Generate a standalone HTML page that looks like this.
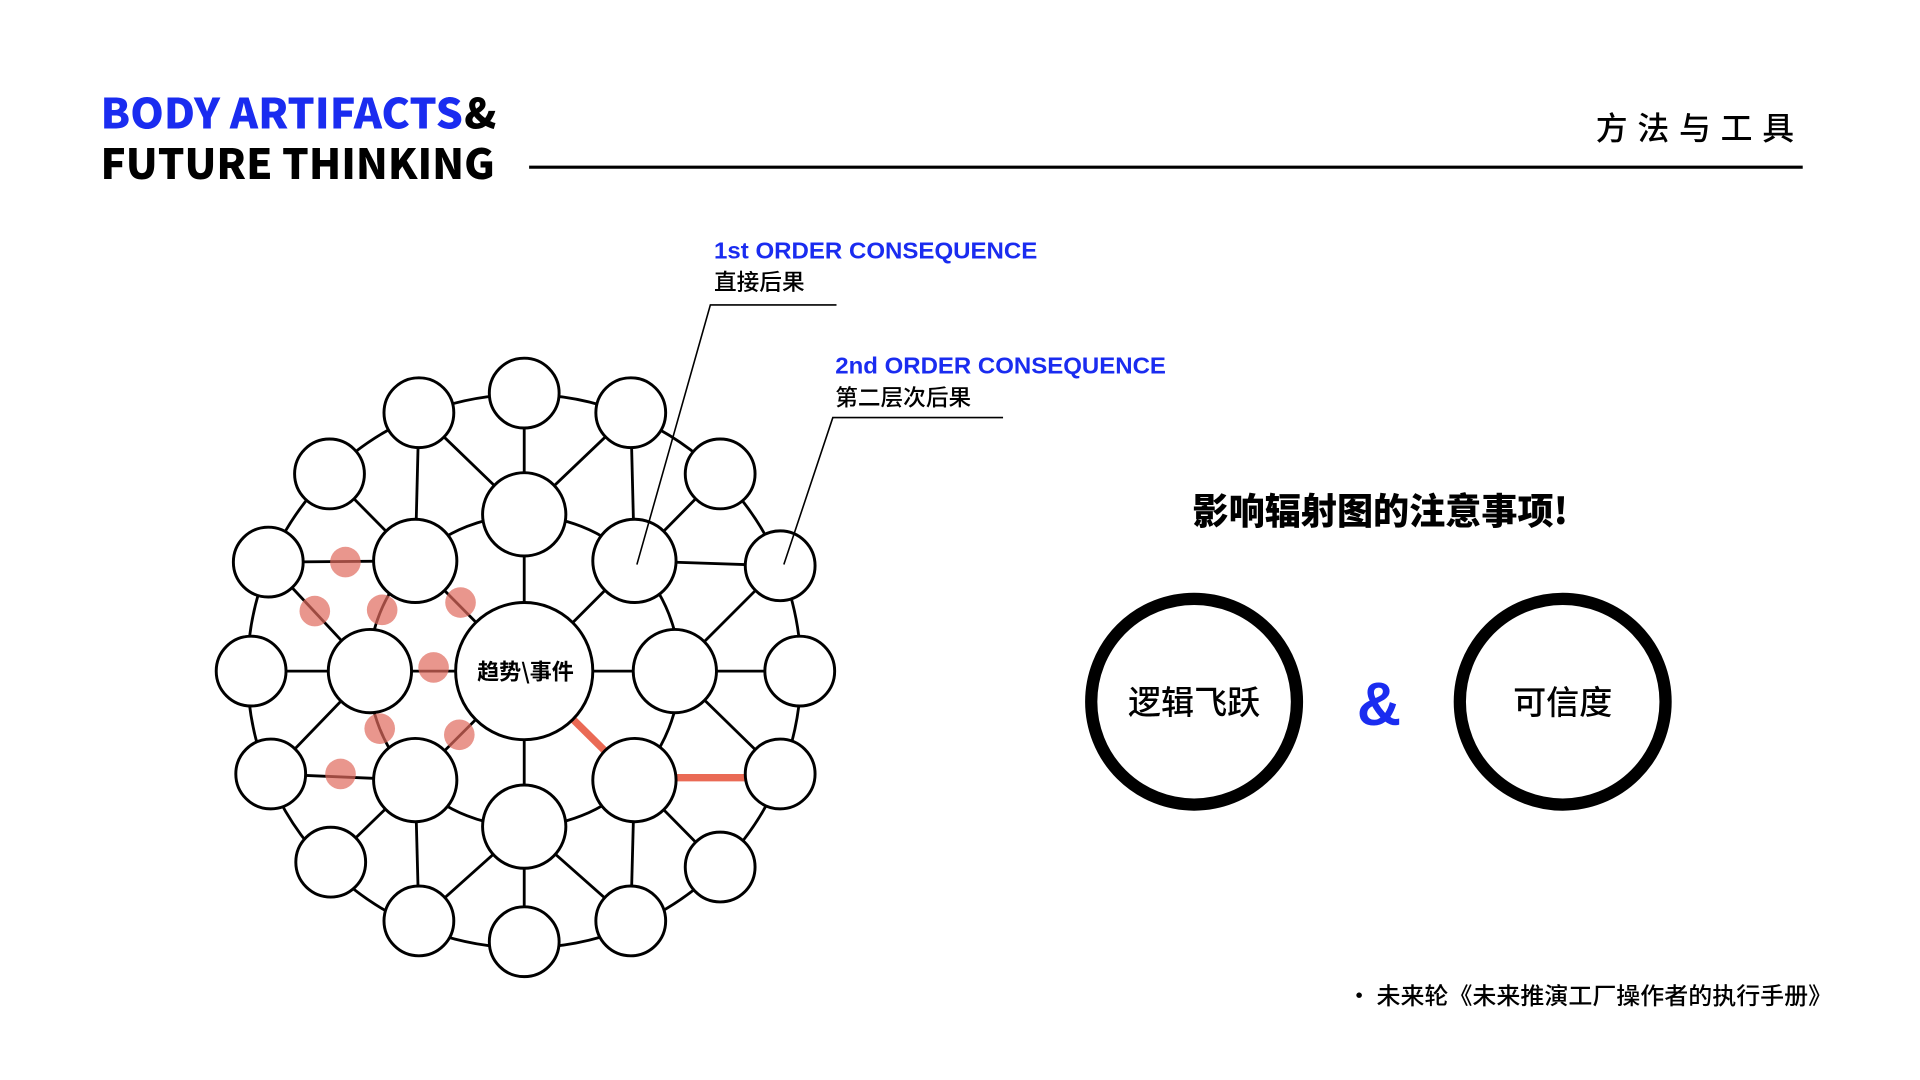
<!DOCTYPE html>
<html><head><meta charset="utf-8"><style>
html,body{margin:0;padding:0;background:#fff;width:1920px;height:1080px;overflow:hidden}
svg{display:block}
text{font-family:"Liberation Sans","Noto Sans CJK SC",sans-serif}
.cjk{font-family:"Noto Sans CJK SC","WenQuanYi Zen Hei",sans-serif}
</style></head><body>
<svg width="1920" height="1080" viewBox="0 0 1567.7 881.9" xmlns="http://www.w3.org/2000/svg">
<text x="82" y="105" class="cjk" font-weight="900" font-size="34" fill="#1a2cf0" textLength="296" lengthAdjust="spacingAndGlyphs">BODY ARTIFACTS</text>
<text x="379" y="105" class="cjk" font-weight="900" font-size="34" fill="#000">&amp;</text>
<text x="82" y="146" class="cjk" font-weight="900" font-size="34" fill="#000" textLength="322" lengthAdjust="spacingAndGlyphs">FUTURE THINKING</text>
<line x1="432" y1="136.5" x2="1472" y2="136.5" stroke="#000" stroke-width="2.5"/>
<text x="1473" y="114" text-anchor="end" class="cjk" font-size="26" font-weight="500" fill="#000" letter-spacing="8">方法与工具</text>

<text x="583" y="211" font-weight="700" font-size="18.5" fill="#1a2cf0" textLength="264" lengthAdjust="spacingAndGlyphs">1st ORDER CONSEQUENCE</text>
<text x="583" y="237" class="cjk" font-weight="500" font-size="18.5" fill="#000">直接后果</text>
<text x="682" y="305" font-weight="700" font-size="18.5" fill="#1a2cf0" textLength="270" lengthAdjust="spacingAndGlyphs">2nd ORDER CONSEQUENCE</text>
<text x="682" y="331" class="cjk" font-weight="500" font-size="18.5" fill="#000">第二层次后果</text>

<g stroke="#000" stroke-width="2.3" fill="none">
<circle cx="428" cy="548" r="226"/>
<circle cx="428" cy="548" r="127"/>
<line x1="428" y1="548" x2="428" y2="420"/><line x1="428" y1="548" x2="339" y2="458"/>
<line x1="428" y1="548" x2="518" y2="458"/><line x1="428" y1="548" x2="302" y2="548"/>
<line x1="428" y1="548" x2="551" y2="548"/><line x1="428" y1="548" x2="339" y2="637"/>
<line x1="428" y1="548" x2="428" y2="675"/>
<line x1="428" y1="420" x2="428" y2="321"/><line x1="428" y1="420" x2="342" y2="337"/><line x1="428" y1="420" x2="515" y2="337"/>
<line x1="339" y1="458" x2="342" y2="337"/><line x1="339" y1="458" x2="269" y2="387"/><line x1="339" y1="458" x2="219" y2="459"/>
<line x1="302" y1="548" x2="219" y2="459"/><line x1="302" y1="548" x2="205" y2="548"/><line x1="302" y1="548" x2="221" y2="632"/>
<line x1="339" y1="637" x2="221" y2="632"/><line x1="339" y1="637" x2="270" y2="704"/><line x1="339" y1="637" x2="342" y2="752"/>
<line x1="428" y1="675" x2="342" y2="752"/><line x1="428" y1="675" x2="428" y2="769"/><line x1="428" y1="675" x2="515" y2="752"/>
<line x1="518" y1="637" x2="515" y2="752"/><line x1="518" y1="637" x2="588" y2="708"/>
<line x1="551" y1="548" x2="637" y2="632"/><line x1="551" y1="548" x2="653" y2="548"/><line x1="551" y1="548" x2="637" y2="462"/>
<line x1="518" y1="458" x2="637" y2="462"/><line x1="518" y1="458" x2="588" y2="387"/><line x1="518" y1="458" x2="515" y2="337"/>
</g>
<g stroke="#ea6a55" stroke-width="6">
<line x1="428" y1="548" x2="518" y2="637"/>
<line x1="518" y1="635" x2="637" y2="635"/>
</g>
<g stroke="#000" stroke-width="2.4" fill="#fff">
<circle cx="428" cy="548" r="56"/>
<circle cx="428" cy="420" r="34"/><circle cx="339" cy="458" r="34"/><circle cx="518" cy="458" r="34"/>
<circle cx="302" cy="548" r="34"/><circle cx="551" cy="548" r="34"/><circle cx="339" cy="637" r="34"/>
<circle cx="518" cy="637" r="34"/><circle cx="428" cy="675" r="34"/>
<circle cx="428" cy="321" r="28.5"/><circle cx="342" cy="337" r="28.5"/><circle cx="515" cy="337" r="28.5"/>
<circle cx="269" cy="387" r="28.5"/><circle cx="588" cy="387" r="28.5"/><circle cx="219" cy="459" r="28.5"/>
<circle cx="637" cy="462" r="28.5"/><circle cx="205" cy="548" r="28.5"/><circle cx="653" cy="548" r="28.5"/>
<circle cx="221" cy="632" r="28.5"/><circle cx="637" cy="632" r="28.5"/><circle cx="270" cy="704" r="28.5"/>
<circle cx="588" cy="708" r="28.5"/><circle cx="342" cy="752" r="28.5"/><circle cx="515" cy="752" r="28.5"/>
<circle cx="428" cy="769" r="28.5"/>
</g>
<text x="429" y="555" text-anchor="middle" class="cjk" font-weight="700" font-size="18" fill="#000">趋势\事件</text>
<g fill="#e06a5c" fill-opacity="0.7">
<circle cx="282" cy="459" r="12.5"/><circle cx="257" cy="499" r="12.5"/><circle cx="312" cy="498" r="12.5"/>
<circle cx="376" cy="492" r="12.5"/><circle cx="354" cy="545" r="12.5"/><circle cx="310" cy="595" r="12.5"/>
<circle cx="375" cy="600" r="12.5"/><circle cx="278" cy="632" r="12.5"/>
</g>
<polyline points="683,249 580,249 520,461" fill="none" stroke="#000" stroke-width="1.3"/>
<polyline points="819,341 680,341 640,461" fill="none" stroke="#000" stroke-width="1.3"/>

<text x="1127" y="428" text-anchor="middle" class="cjk" font-weight="900" font-size="29.5" fill="#000">影响辐射图的注意事项!</text>
<circle cx="975" cy="573" r="84" fill="none" stroke="#000" stroke-width="10"/>
<circle cx="1276" cy="573" r="84" fill="none" stroke="#000" stroke-width="10"/>
<text x="975" y="583" text-anchor="middle" class="cjk" font-weight="500" font-size="27" fill="#000">逻辑飞跃</text>
<text x="1276" y="583" text-anchor="middle" class="cjk" font-weight="500" font-size="27" fill="#000">可信度</text>
<text x="1126" y="592" text-anchor="middle" font-weight="700" font-size="50" fill="#1a2cf0">&amp;</text>
<text x="1100" y="820" class="cjk" font-weight="500" font-size="19" fill="#000" textLength="396" lengthAdjust="spacingAndGlyphs">• 未来轮《未来推演工厂操作者的执行手册》</text>
</svg>
</body></html>
